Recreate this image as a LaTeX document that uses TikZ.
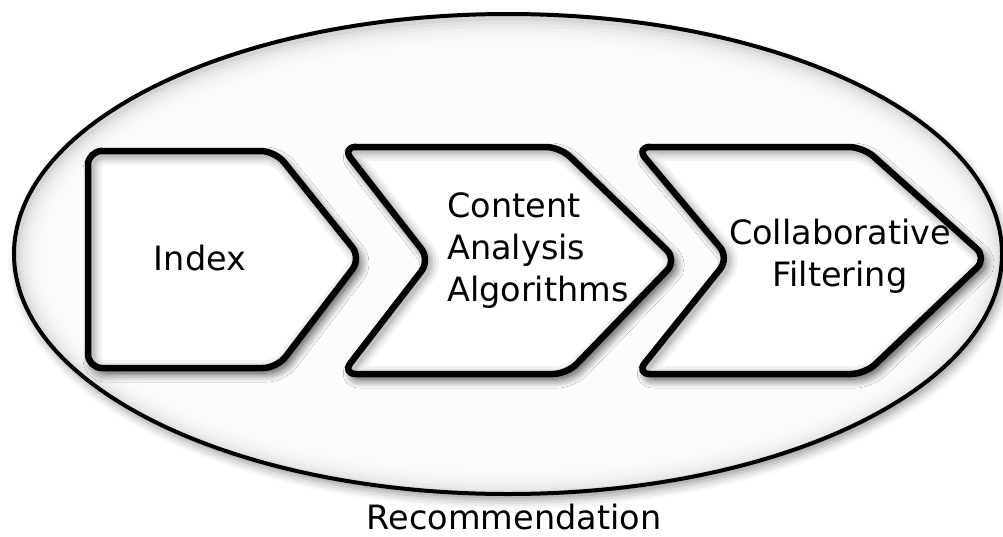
\documentclass[tikz,border=0pt]{standalone}
\usepackage{fontspec}
\setmainfont{DejaVu Sans}
\usetikzlibrary{shadows.blur}
\tikzset{
  chev/.style={draw=black, line width=6.5pt, fill=white, rounded corners=14pt, line join=round,
    blur shadow={shadow xshift=4pt, shadow yshift=-5pt, shadow blur radius=9pt, shadow blur steps=14, shadow opacity=75}},
  chevline/.style={draw=black, line width=6.5pt, rounded corners=14pt, line join=round},
  inshadow/.style={rounded corners=14pt, line join=round, draw=black},
  lbl/.style={font=\fontsize{33.5}{42}\selectfont, inner sep=0pt},
}
\newcommand{\chevA}{(88,151) -- (275,151) -- (361,258) -- (277,368) -- (88,368) -- cycle}
\newcommand{\chevB}{(342,147) -- (560,147) -- (677,260) -- (567,374) -- (342,374) -- (430,260) -- cycle}
\newcommand{\chevC}{(636,147) -- (863,147) -- (987,258) -- (865,374) -- (636,374) -- (729,258) -- cycle}
\newcommand{\innerglow}[1]{%
  \begin{scope}
    \clip[rounded corners=14pt] #1;
    \foreach \w/\o in {22/0.05,16/0.06,11/0.07,7/0.08} {
      \draw[inshadow, line width=\w pt, opacity=\o, xshift=3pt, yshift=-3pt] #1;
    }
  \end{scope}}
\begin{document}
\begin{tikzpicture}[x=1pt,y=-1pt]
\useasboundingbox (0,0) rectangle (1003,536);
% ellipse with inner glow
\fill[gray!32, blur shadow={shadow xshift=3pt, shadow yshift=-6pt, shadow blur radius=9pt, shadow opacity=40}] (508,254) ellipse [x radius=494, y radius=240];
\foreach \i in {1,...,12} {
  \fill[white, opacity=0.3] (510,257) ellipse [x radius={494-3.5*\i}, y radius={240-3.5*\i}];
}
\draw[line width=4pt] (508,254) coordinate (ec) ellipse [x radius=494, y radius=240];
% chevrons
\fill[chev, draw=none] \chevA;
\fill[chev, draw=none] \chevB;
\fill[chev, draw=none] \chevC;
\innerglow{\chevA}
\innerglow{\chevB}
\innerglow{\chevC}
\draw[chevline] \chevA;
\draw[chevline] \chevB;
\draw[chevline] \chevC;
% labels
\node[lbl] (index) at (200,258) {Index};
\node[lbl, align=left, anchor=west] (caa) at (447,251) {Content\\Analysis\\Algorithms};
\node[lbl, align=center] (cf) at (840,256) {Collaborative\\Filtering};
\node[lbl, anchor=base] (rec) at (514,529) {Recommendation};
\end{tikzpicture}
\end{document}
